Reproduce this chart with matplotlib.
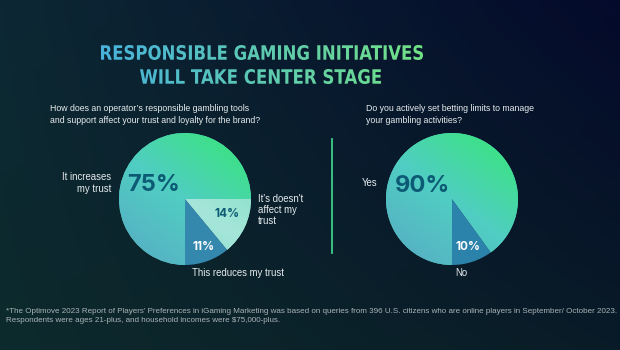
import numpy as np
import matplotlib
matplotlib.use("Agg")
import matplotlib.pyplot as plt
from matplotlib.textpath import TextPath
from matplotlib.patches import PathPatch
from matplotlib.font_manager import FontProperties
from matplotlib.transforms import Affine2D
from matplotlib.colors import to_rgb

# --- data ---
title_lines = ["RESPONSIBLE GAMING INITIATIVES", "WILL TAKE CENTER STAGE"]
question_1 = "How does an operator\u2019s responsible gambling tools\nand support affect your trust and loyalty for the brand?"
question_2 = "Do you actively set betting limits to manage\nyour gambling activities?"

trust_labels = ["It's doesn't\naffect my\ntrust", "This reduces my trust", "It increases\nmy trust"]
trust_values = [14, 11, 75]
limit_labels = ["No", "Yes"]
limit_values = [10, 90]

footnote = ("*The Optimove 2023 Report of Players\u2019 Preferences in iGaming Marketing was based on queries "
            "from 396 U.S. citizens who are online players in September/ October 2023.\n"
            "Respondents were ages 21-plus, and household incomes were $75,000-plus.")

W, H = 620, 350
WHITE = "#e6ecee"
DARK = "#0c5a74"

fig = plt.figure(figsize=(6.2, 3.5), dpi=100)
ax = fig.add_axes([0, 0, 1, 1])
ax.set_xlim(0, W)
ax.set_ylim(0, H)
ax.set_autoscale_on(False)
ax.axis("off")


def Y(y):
    return H - y


def mix(c0, c1, t):
    c0, c1 = np.array(to_rgb(c0)), np.array(to_rgb(c1))
    t = np.clip(t, 0, 1)[..., None]
    return c0 * (1 - t) + c1 * t


# background: four-corner blend
tl, tr, bl, br = [np.array(to_rgb(c)) for c in ("#0d2834", "#040a2b", "#0d2a2c", "#091b27")]
yy, xx = np.mgrid[0:1:175j, 0:1:310j]
top = tl * (1 - xx[..., None]) + tr * xx[..., None]
bot = bl * (1 - xx[..., None]) + br * xx[..., None]
bg = top * (1 - yy[..., None]) + bot * yy[..., None]
ax.imshow(bg, extent=(0, W, 0, H), origin="upper", aspect="auto", zorder=0, interpolation="bilinear")

# title with horizontal gradient (bold font squeezed to the box)
fp_title = FontProperties(family=["DejaVu Sans"], weight="bold")
title_box = [(101, 423, 45, 60), (140, 381, 69, 84)]
gx = np.linspace(0, 1, 300)[None, :].repeat(2, axis=0)
for line, (x0, x1, yt, yb) in zip(title_lines, title_box):
    tp = TextPath((0, 0), line, size=100, prop=fp_title)
    bb = tp.get_extents()
    tr_ = (Affine2D().translate(-bb.x0, -bb.y0)
           .scale((x1 - x0) / bb.width, (yb - yt) / bb.height)
           .translate(x0, Y(yb)) + ax.transData)
    patch = PathPatch(tp, transform=tr_, facecolor="none", edgecolor="none")
    ax.add_patch(patch)
    grad = mix("#48b2dc", "#72e286", gx)
    im = ax.imshow(grad, extent=(101, 423, Y(yb) - 2, Y(yt) + 2), aspect="auto",
                   zorder=3, interpolation="bilinear")
    im.set_clip_path(patch)

# questions
fp_q = dict(family=["Liberation Sans", "DejaVu Sans"], fontsize=6.3, color=WHITE, linespacing=1.4)
ax.text(50, Y(104), question_1, ha="left", va="top", **fp_q)
ax.text(366, Y(104), question_2, ha="left", va="top", **fp_q)


def gradient_fill(wedge, cx, cy, r, stops):
    n = 200
    v, u = np.mgrid[1:-1:n * 1j, -1:1:n * 1j]
    t = (u * 0.6 + v * 0.8 + 1) / 2
    img = np.where(t[..., None] < 0.5,
                   mix(stops[0], stops[1], t * 2),
                   mix(stops[1], stops[2], (t - 0.5) * 2))
    im = ax.imshow(img, extent=(cx - r, cx + r, cy - r, cy + r), aspect="auto",
                   zorder=2, interpolation="bilinear")
    im.set_clip_path(wedge)


big_stops = ("#56b4c4", "#50cec2", "#3ee08a")
R = 66
# left pie
c1 = (185, Y(199))
w1, _ = ax.pie(trust_values, center=c1, radius=R, startangle=0, counterclock=False,
               colors=["#98e2d2", "#3487ad", "#52cfc2"], frame=True,
               wedgeprops=dict(linewidth=0, zorder=1))
gradient_fill(w1[2], c1[0], c1[1], R, big_stops)
gradient_fill(w1[0], c1[0], c1[1], R, ("#7ad8c8", "#a6e6da", "#86e0c6"))
w1[1].set_zorder(2.5)

# right pie
c2 = (452, Y(199))
w2, _ = ax.pie(limit_values, center=c2, radius=R, startangle=-90, counterclock=True,
               colors=["#2b82aa", "#52cfc2"], frame=True,
               wedgeprops=dict(linewidth=0, zorder=1))
gradient_fill(w2[1], c2[0], c2[1], R, big_stops)
w2[0].set_zorder(2.5)
ax.set_xlim(0, W)
ax.set_ylim(0, H)
ax.axis("off")

# percent labels
pf = ["Inter", "Roboto", "DejaVu Sans"]
ax.text(153, Y(185), f"{trust_values[2]}%", ha="center", va="center", fontsize=17,
        fontweight="bold", color=DARK, family=pf, zorder=4)
ax.text(227, Y(214), f"{trust_values[0]}%", ha="center", va="center", fontsize=8.5,
        fontweight="bold", color=DARK, family=pf, zorder=4)
ax.text(204, Y(247), f"{trust_values[1]}%", ha="center", va="center", fontsize=8.5,
        fontweight="bold", color="white", family=pf, zorder=4)
ax.text(422, Y(186), f"{limit_values[1]}%", ha="center", va="center", fontsize=17,
        fontweight="bold", color=DARK, family=pf, zorder=4)
ax.text(468, Y(247), f"{limit_values[0]}%", ha="center", va="center", fontsize=8.5,
        fontweight="bold", color="white", family=pf, zorder=4)

# category labels
lf = dict(family=["Liberation Sans", "DejaVu Sans"], fontsize=6.9, color=WHITE, linespacing=1.15, zorder=4)
ax.text(111, Y(183), trust_labels[2], ha="right", va="center", **lf)
ax.text(258, Y(210), trust_labels[0], ha="left", va="center", **lf)
ax.text(192, Y(273), trust_labels[1], ha="left", va="center", **lf)
ax.text(377, Y(183), limit_labels[1], ha="right", va="center", **lf)
ax.text(461, Y(273), limit_labels[0], ha="center", va="center", **lf)

# divider
ax.plot([332, 332], [Y(139), Y(253)], color="#3ecf8a", lw=1.3, zorder=4)

# footnote
ax.text(6, Y(308), footnote, ha="left", va="top", fontsize=5.8, color="#aab4b8",
        family=["Liberation Sans", "DejaVu Sans"], linespacing=1.3)

fig.savefig("out.png", dpi=100)
